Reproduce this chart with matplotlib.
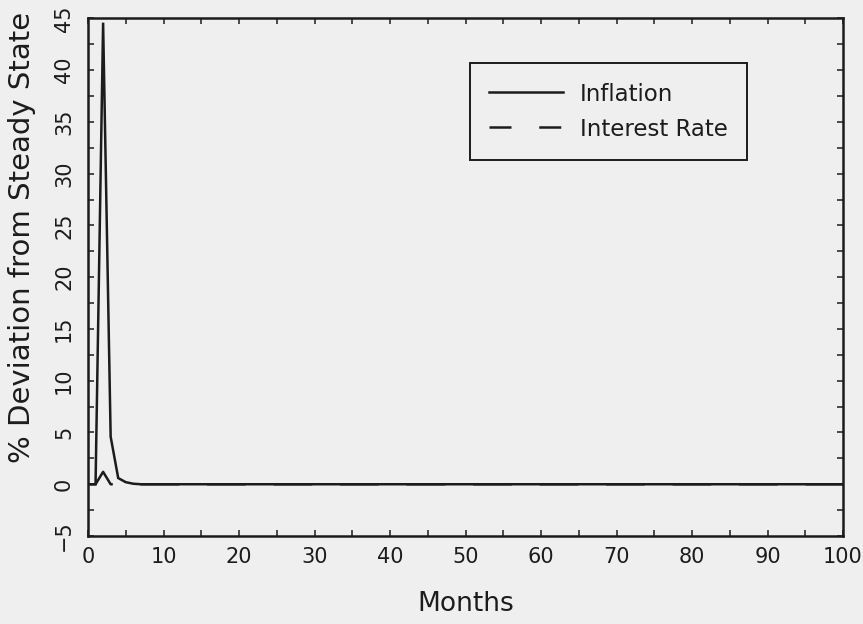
import matplotlib
matplotlib.use("Agg")
import matplotlib.pyplot as plt
from matplotlib.lines import Line2D
from matplotlib.ticker import MultipleLocator
from matplotlib.transforms import ScaledTranslation

# Impulse responses, % deviation from steady state by month
months = [0, 1, 2, 3, 4, 5, 6, 7, 100]
inflation = [0.0, 0.0, 44.6, 4.6, 0.6, 0.2, 0.05, 0.0, 0.0]
interest_rate = [0.0, 0.0, 1.2, 0.0, 0.0, 0.0, 0.0, 0.0, 0.0]

series_labels = ["Inflation", "Interest Rate"]
x_label = "Months"
y_label = "% Deviation from Steady State"

paper = "#efefef"
ink = "#1c1c1c"
lw = 1.8
dash_key = (8.8, 11.1)      # dash pattern shown in the key
dash_plot = (15.5, 11.1)    # longer first dash keeps the small hump whole

plt.rcParams["font.family"] = ["DejaVu Sans"]

W, H = 863, 624
fig = plt.figure(figsize=(W / 100, H / 100), dpi=100, facecolor=paper)
ax = fig.add_axes([88 / W, 1 - 536 / H, (843 - 88) / W, (536 - 18.5) / H])
ax.set_facecolor(paper)

ax.plot(months, inflation, color=ink, lw=lw, solid_joinstyle="miter")
ax.plot(months, interest_rate, color=ink, lw=lw, dashes=dash_plot)

ax.set_xlim(0, 100)
ax.set_ylim(-5, 45)
ax.xaxis.set_major_locator(MultipleLocator(10))
ax.xaxis.set_minor_locator(MultipleLocator(5))
ax.yaxis.set_major_locator(MultipleLocator(5))
ax.yaxis.set_minor_locator(MultipleLocator(2.5))

for s in ax.spines.values():
    s.set_linewidth(1.8)
    s.set_color(ink)

ax.tick_params(which="both", direction="in", top=True, right=True,
               length=4.3, width=1.1, color=ink)
ax.tick_params(axis="x", which="major", pad=8, labelsize=15, labelcolor=ink)
ax.tick_params(axis="y", which="major", pad=10, labelsize=15, labelcolor=ink,
               labelrotation=90)
for lbl in ax.get_yticklabels():
    lbl.set_va("center")

# nudge the end labels of the month axis inward
xlabels = ax.get_xticklabels()
for lbl, dx in [(xlabels[0], 9), (xlabels[-1], -3)]:
    lbl.set_transform(lbl.get_transform()
                      + ScaledTranslation(dx / 100, 0, fig.dpi_scale_trans))

fig.text(22 / W, 1 - 237 / H, y_label, rotation=90, ha="center", va="center",
         fontsize=21, color=ink)
fig.text(466 / W, 1 - 604 / H, x_label, ha="center", va="center",
         fontsize=19, color=ink)

handles = [Line2D([], [], color=ink, lw=lw),
           Line2D([], [], color=ink, lw=lw, dashes=dash_key)]
leg = ax.legend(handles, series_labels, loc="upper left",
                bbox_to_anchor=(470 / W, 1 - 63 / H),
                bbox_transform=fig.transFigure, borderaxespad=0,
                borderpad=0.85, handlelength=3.2, handleheight=1.05,
                handletextpad=0.75, labelspacing=0.5, fontsize=16.5,
                fancybox=False, framealpha=1, facecolor=paper,
                edgecolor=ink)
leg.get_frame().set_linewidth(1.4)
for t in leg.get_texts():
    t.set_color(ink)

fig.savefig("out.png", dpi=100, facecolor=paper)
